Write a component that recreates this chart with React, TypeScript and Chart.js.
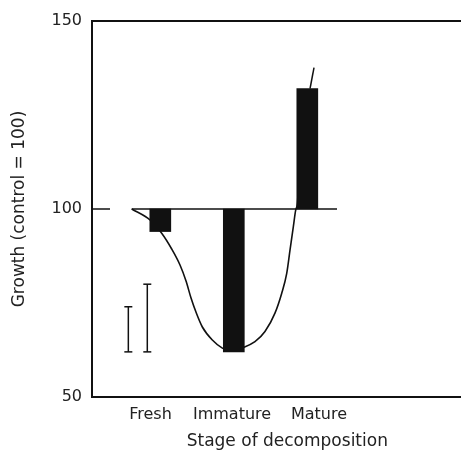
import React, { useEffect, useRef } from "react";
import { Chart, registerables } from "chart.js";

Chart.register(...registerables);

// ---- data ----
const categories = ["Fresh", "Immature", "Mature"];
const growth = [94, 62, 132];
const controlLevel = 100;
const yTicks = [50, 100, 150];

// fitted response curve (x in stage units, y = growth)
const curveX = [0.611, 0.86, 1.019, 1.155, 1.268, 1.35, 1.418, 1.49, 1.572, 1.708, 1.844, 1.976, 2.107, 2.288, 2.424, 2.56, 2.652, 2.72, 2.765, 2.81, 2.842, 2.869, 2.885];
const curveY = [100, 97.07, 93.54, 89.36, 85.11, 80.85, 76.33, 72.34, 68.62, 65.16, 63.0, 62.2, 63.0, 64.7, 67.4, 72.3, 77.6, 82.9, 89.1, 95.3, 99.7, 102.4, 112];

// control line extent
const controlX = [0.611, 3.404];

// left-hand error bars (LSD bars)
const errorX = [0.565, 0.823];
const errorLow = [62, 62];
const errorHigh = [74, 80];

// error line on the mature bar
const matureErrX = [3.037, 3.091];
const matureErrY = [132, 137.6];

// small per-label nudges of the category labels
const labelNudge = [-0.133, -0.024, 0.159];

const INK = "#111";

export default function App() {
  const ref = useRef<HTMLCanvasElement | null>(null);

  useEffect(() => {
    document.body.style.margin = "0";
    const canvas = ref.current;
    if (!canvas) return;

    const framePlugin = {
      id: "frame",
      beforeDatasetsDraw(chart: any) {
        const { ctx, chartArea } = chart;
        const y = chart.scales.y;
        ctx.save();
        ctx.strokeStyle = INK;
        ctx.lineWidth = 2;
        ctx.beginPath();
        ctx.moveTo(chartArea.left, chartArea.top);
        ctx.lineTo(chartArea.right, chartArea.top);
        ctx.stroke();
        ctx.lineWidth = 1.5;
        for (const t of yTicks) {
          if (t === y.min || t === y.max) continue;
          const py = y.getPixelForValue(t);
          ctx.beginPath();
          ctx.moveTo(chartArea.left, py);
          ctx.lineTo(chartArea.left + 18, py);
          ctx.stroke();
        }
        ctx.restore();
      },
    };

    const lineBase = {
      type: "line" as const,
      borderColor: INK,
      backgroundColor: INK,
      pointRadius: 0,
      fill: false,
      order: 2,
    };

    const datasets: any[] = [
      {
        type: "bar",
        data: categories.map((_, i) => ({ x: i + 1, y: [controlLevel, growth[i]] })),
        backgroundColor: INK,
        borderWidth: 0,
        barThickness: 21,
        order: 0,
      },
      {
        ...lineBase,
        data: controlX.map((x) => ({ x, y: controlLevel })),
        borderWidth: 1.6,
      },
      {
        ...lineBase,
        data: curveX.map((x, i) => ({ x, y: curveY[i] })),
        borderWidth: 1.6,
        cubicInterpolationMode: "monotone",
      },
      {
        ...lineBase,
        data: matureErrX.map((x, i) => ({ x, y: matureErrY[i] })),
        borderWidth: 1.5,
      },
      ...errorX.map((x, i) => ({
        ...lineBase,
        data: [
          { x, y: errorLow[i] },
          { x, y: errorHigh[i] },
        ],
        borderWidth: 1.5,
        pointStyle: "line",
        pointRadius: 4,
        pointBorderWidth: 1.5,
        pointBorderColor: INK,
      })),
    ];

    const chart = new Chart(canvas, {
      type: "bar",
      data: { datasets },
      plugins: [framePlugin],
      options: {
        animation: false,
        responsive: false,
        devicePixelRatio: 1,
        events: [],
        layout: { autoPadding: false, padding: { top: 21, right: 0, left: 0, bottom: 0 } },
        plugins: { legend: { display: false }, tooltip: { enabled: false } },
        scales: {
          x: {
            type: "linear",
            min: 0.0707,
            max: 5.091,
            offset: false,
            grid: { display: false, drawTicks: false },
            border: { display: true, color: INK, width: 2 },
            afterBuildTicks(scale: any) {
              scale.ticks = categories.map((_, i) => ({ value: i + 1 + labelNudge[i] }));
            },
            afterFit(scale: any) {
              scale.height = 55;
              scale.paddingRight = 0;
              scale.paddingLeft = 0;
            },
            ticks: {
              autoSkip: false,
              maxRotation: 0,
              padding: 8,
              color: "#222",
              font: { family: "DejaVu Sans", size: 16 },
              callback: (_v: any, i: number) => categories[i],
            },
            title: {
              display: true,
              text: "    Stage of decomposition",
              color: "#222",
              font: { family: "DejaVu Sans", size: 17, lineHeight: 1.2 },
              padding: { top: 0, bottom: 0 },
            },
          },
          y: {
            type: "linear",
            min: 50,
            max: 150,
            grid: { display: false, drawTicks: false },
            border: { display: true, color: INK, width: 2 },
            afterBuildTicks(scale: any) {
              scale.ticks = yTicks.map((v) => ({ value: v }));
            },
            afterFit(scale: any) {
              scale.width = 92;
            },
            ticks: {
              padding: 10,
              color: "#222",
              font: { family: "DejaVu Sans", size: 16 },
              callback: (v: any) => String(v),
            },
            title: {
              display: true,
              text: "Growth (control = 100)",
              color: "#222",
              font: { family: "DejaVu Sans", size: 17, lineHeight: 1.2 },
              padding: { top: 9, bottom: 0 },
            },
          },
        },
      } as any,
    });

    return () => chart.destroy();
  }, []);

  return (
    <div style={{ width: 461, height: 452 }}>
      <canvas ref={ref} width={461} height={452} style={{ display: "block" }} />
    </div>
  );
}
